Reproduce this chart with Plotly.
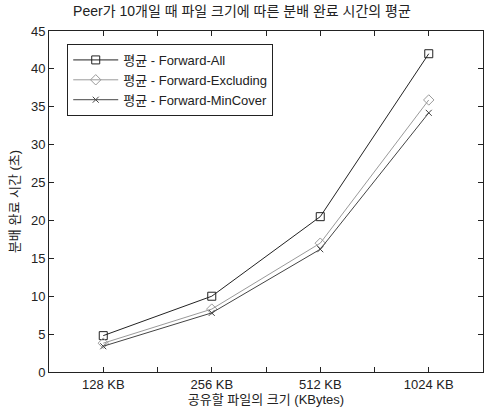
import plotly.graph_objects as go

categories = ["128 KB", "256 KB", "512 KB", "1024 KB"]
forward_all = [4.8, 10.0, 20.5, 42.0]
forward_excluding = [3.8, 8.3, 17.0, 35.9]
forward_mincover = [3.4, 7.8, 16.2, 34.2]
y_ticks = [0, 5, 10, 15, 20, 25, 30, 35, 40, 45]

xpos = list(range(1, len(categories) + 1))
FONT = "Liberation Sans, Arial, Noto Sans CJK KR, sans-serif"
INK = "#222222"

fig = go.Figure()
fig.add_trace(go.Scatter(x=xpos, y=forward_all, mode="lines+markers",
                         name="평균 - Forward-All",
                         line=dict(color="#222222", width=1),
                         marker=dict(symbol="square-open", size=8, color="#222222", line=dict(width=1))))
fig.add_trace(go.Scatter(x=xpos, y=forward_excluding, mode="lines+markers",
                         name="평균 - Forward-Excluding",
                         line=dict(color="#9a9a9a", width=1),
                         marker=dict(symbol="diamond-open", size=8, color="#9a9a9a", line=dict(width=1))))
fig.add_trace(go.Scatter(x=xpos, y=forward_mincover, mode="lines+markers",
                         name="평균 - Forward-MinCover",
                         line=dict(color="#444444", width=1),
                         marker=dict(symbol="x-thin-open", size=6, color="#444444", line=dict(width=1, color="#444444"))))

tickvals = []
ticktext = []
for i, c in enumerate(categories):
    tickvals.append(i + 1)
    ticktext.append(c)
    if i < len(categories) - 1:
        tickvals.append(i + 1.5)
        ticktext.append("")

fig.update_layout(
    width=484, height=410,
    margin=dict(l=49, r=1, t=31, b=38, autoexpand=False),
    paper_bgcolor="white", plot_bgcolor="white",
    font=dict(family=FONT, size=13, color=INK),
    title=dict(text="Peer가 10개일 때 파일 크기에 따른 분배 완료 시간의 평균",
               x=0.5, xanchor="center", y=0.985, yanchor="top",
               font=dict(size=14, family=FONT, color=INK)),
    showlegend=True,
    legend=dict(x=0.042, y=0.962, xanchor="left", yanchor="top",
                bgcolor="white", bordercolor=INK, borderwidth=1,
                font=dict(size=13, family=FONT, color=INK), tracegroupgap=0,
                itemwidth=45),
    xaxis=dict(range=[0.5, 4.5], tickmode="array", tickvals=tickvals, ticktext=ticktext,
               ticks="inside", ticklen=5, tickcolor=INK, automargin=False,
               showline=True, linecolor=INK, linewidth=1, mirror="ticks",
               showgrid=False, zeroline=False,
               title=dict(text="공유할 파일의 크기 (KBytes)", standoff=0,
                          font=dict(size=13, color=INK)),
               tickfont=dict(size=13, color=INK)),
    yaxis=dict(range=[0, 45], tickmode="array", tickvals=y_ticks,
               ticks="inside", ticklen=5, tickcolor=INK, automargin=False,
               showline=True, linecolor=INK, linewidth=1, mirror="ticks",
               showgrid=False, zeroline=False,
               title=dict(text="분배 완료 시간 (초)", standoff=8,
                          font=dict(size=13, color=INK)),
               tickfont=dict(size=13, color=INK)),
)

fig.write_html("out.html", config={"displayModeBar": False},
               post_script="document.body.style.margin='0px';")
